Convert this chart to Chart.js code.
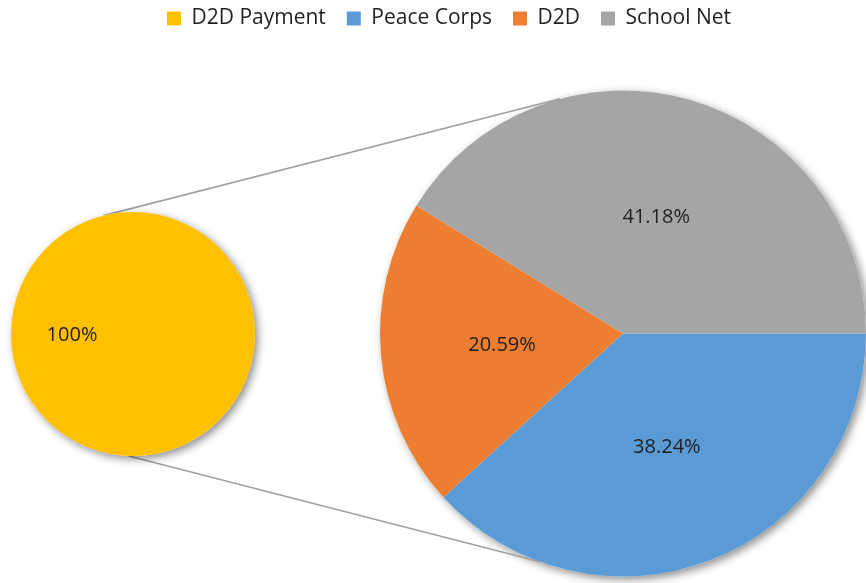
<!DOCTYPE html>
<html>
<head>
<meta charset="utf-8">
<script src="https://cdn.jsdelivr.net/npm/chart.js@4.4.0/dist/chart.umd.min.js"></script>
<style>
  html, body { margin: 0; padding: 0; background: #fff; }
  #wrap { position: relative; width: 866px; height: 583px; }
  #wrap canvas { position: absolute; left: 0; top: 0; }
  #smallPie { pointer-events: none; }
</style>
</head>
<body>
<div id="wrap">
  <canvas id="bigPie" width="866" height="583"></canvas>
  <canvas id="smallPie" width="866" height="583"></canvas>
</div>
<script>
const firstLabels = ['D2D Payment'];
const firstValues = [100];
const firstColors = ['#FFC000'];

const secondLabels = ['Peace Corps', 'D2D', 'School Net'];
const secondValues = [38.24, 20.59, 41.18];
const secondColors = ['#5B9BD5', '#ED7D31', '#A5A5A5'];

const font = { family: "'Open Sans', sans-serif", size: 20, lineHeight: 1 };
const legendFont = { family: "'Open Sans', sans-serif", size: 21, lineHeight: 1 };
const textColor = '#1f1f1f';
const lineColor = '#A0A0A0';

// second pie is pinned to the right edge, the legend sits above it
const secondArea = { left: 380, top: 90.5, right: 866, bottom: 576.5 };
const legendShift = -13;
// connector ends, degrees clockwise from 3 o'clock: [first pie, second pie]
const connectors = [[256, 255], [92, 110]];

Chart.defaults.animation = false;

const pinArea = {
  id: 'pinArea',
  afterLayout(chart) {
    const area = chart.chartArea;
    Object.assign(area, secondArea);
    area.width = area.right - area.left;
    area.height = area.bottom - area.top;
    chart.legend.top += legendShift;
    chart.legend.bottom += legendShift;
  }
};

const pieShadow = {
  id: 'pieShadow',
  beforeDatasetsDraw(chart) {
    const arc = chart.getDatasetMeta(0).data[0];
    if (!arc) return;
    const ctx = chart.ctx;
    ctx.save();
    ctx.shadowColor = 'rgba(0, 0, 0, 0.45)';
    ctx.shadowBlur = 8;
    ctx.shadowOffsetX = 3;
    ctx.shadowOffsetY = 3;
    ctx.fillStyle = '#ffffff';
    ctx.beginPath();
    ctx.arc(arc.x, arc.y, arc.outerRadius, 0, Math.PI * 2);
    ctx.fill();
    ctx.restore();
  }
};

const valueLabels = {
  id: 'valueLabels',
  afterDatasetsDraw(chart) {
    const ctx = chart.ctx;
    const values = chart.data.datasets[0].data;
    ctx.save();
    ctx.font = `${font.size}px ${font.family}`;
    ctx.fillStyle = textColor;
    ctx.textAlign = 'center';
    ctx.textBaseline = 'middle';
    chart.getDatasetMeta(0).data.forEach((arc, i) => {
      const pos = arc.tooltipPosition(true);
      ctx.fillText(values[i] + '%', pos.x, pos.y + 1);
    });
    ctx.restore();
  }
};

const legendItems = () => {
  const item = (text, color, i) => ({
    text,
    fillStyle: color,
    strokeStyle: color,
    lineWidth: 0,
    hidden: false,
    index: i,
    fontColor: textColor
  });
  return firstLabels.map((t, i) => item(t, firstColors[i], i))
    .concat(secondLabels.map((t, i) => item(t, secondColors[i], i + 1)));
};

const bigChart = new Chart(document.getElementById('bigPie'), {
  type: 'pie',
  data: {
    labels: secondLabels,
    datasets: [{
      data: secondValues,
      backgroundColor: secondColors,
      borderWidth: 0,
      hoverOffset: 0,
      clip: false
    }]
  },
  options: {
    responsive: false,
    rotation: 90,
    events: [],
    layout: { padding: { left: 32 } },
    plugins: {
      legend: {
        position: 'top',
        onClick: () => {},
        labels: {
          generateLabels: legendItems,
          boxWidth: 14,
          boxHeight: 14,
          padding: 21,
          color: textColor,
          font: legendFont
        }
      },
      tooltip: { enabled: false }
    }
  },
  plugins: [pinArea, pieShadow, valueLabels]
});

const connectorLines = {
  id: 'connectorLines',
  beforeDatasetsDraw(chart) {
    const a = chart.getDatasetMeta(0).data[0];
    const b = bigChart.getDatasetMeta(0).data[0];
    if (!a || !b) return;
    const ctx = chart.ctx;
    const rad = d => d * Math.PI / 180;
    ctx.save();
    ctx.strokeStyle = lineColor;
    ctx.lineWidth = 1.6;
    ctx.beginPath();
    connectors.forEach(([da, db]) => {
      ctx.moveTo(a.x + a.outerRadius * Math.cos(rad(da)), a.y + a.outerRadius * Math.sin(rad(da)));
      ctx.lineTo(b.x + b.outerRadius * Math.cos(rad(db)), b.y + b.outerRadius * Math.sin(rad(db)));
    });
    ctx.stroke();
    ctx.restore();
  }
};

new Chart(document.getElementById('smallPie'), {
  type: 'pie',
  data: {
    labels: firstLabels,
    datasets: [{
      data: firstValues,
      backgroundColor: firstColors,
      borderWidth: 0,
      hoverOffset: 0
    }]
  },
  options: {
    responsive: false,
    rotation: 90,
    events: [],
    layout: { padding: { left: 11, right: 611, top: 212, bottom: 127 } },
    plugins: {
      legend: { display: false },
      tooltip: { enabled: false }
    }
  },
  plugins: [connectorLines, pieShadow, valueLabels]
});
</script>
</body>
</html>
